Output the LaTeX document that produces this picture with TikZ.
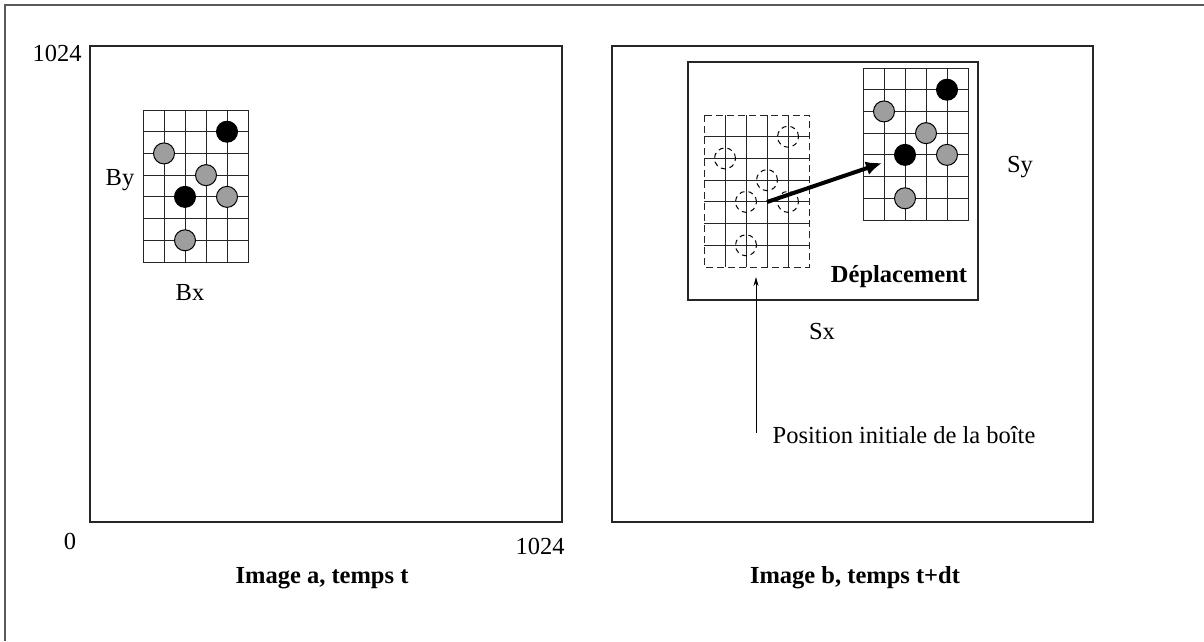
\documentclass[tikz,border=0pt]{standalone}
\usepackage{fontspec}
\setmainfont{Liberation Serif}
\usetikzlibrary{arrows.meta,positioning}
\definecolor{pastille}{gray}{0.62}
\definecolor{trait}{gray}{0.15}

% grid of the box: corner (#1,#2), 5 x 7 cells
\newcommand{\grillebx}[2]{%
  \foreach \i in {1,...,4} \draw[grille] ({#1+21*\i},#2) -- ++(0,152);
  \foreach \j in {1,...,6} \draw[grille] (#1,{#2+152/7*\j}) -- ++(105,0);
}

\begin{document}
\begin{tikzpicture}[x=1pt,y=-1pt,>=Latex,
  cadre/.style={line width=1.3pt,draw=trait},
  grille/.style={line width=1pt,draw=trait},
  lab/.style={font=\fontsize{24.5}{28}\selectfont},
  titre/.style={font=\fontsize{24.5}{28}\selectfont\bfseries}]
\useasboundingbox (0,0) rectangle (1204,641);
% outer frame (top and left only)
\draw[line width=1.3pt,draw=black!65] (5,641) -- (5,5) -- (1204,5);

% image a
\draw[cadre] (90,46) rectangle (562,522);
\node[lab] (haut) at (57,53) {1024};
\node[lab] (zero) at (70,541) {0};
\node[lab] (droite) at (540,546) {1024};
\node[titre] (imga) at (322,578) {Image a, temps t};
% box B
\grillebx{143}{110}
\draw[grille] (143,110) rectangle ++(105,152);
\foreach \c/\r/\col in {4/1/black,2/4/black,1/2/pastille,3/3/pastille,4/4/pastille,2/6/pastille}
  \draw[line width=1pt,fill=\col] ({143+21*\c},{110+152/7*\r}) circle[radius=10.5pt];
\node[lab] (by) at (120,180) {By};
\node[lab] (bx) at (190,293) {Bx};

% image b
\draw[cadre] (612,46) rectangle (1093,522);
\draw[cadre] (688,62) rectangle (978,300);
\node[titre] (imgb) at (855,578) {Image b, temps t+dt};
\node[titre] (depl) at (899,277) {Déplacement};
\node[lab] (sx) at (822,331) {Sx};
\node[lab] (sy) at (1020,167) {Sy};
% initial position of the box (dashed)
\grillebx{704}{115}
\draw[grille,dashed,dash pattern=on 7pt off 4pt] (704,115) rectangle ++(105,152);
\foreach \c/\r in {4/1,2/4,1/2,3/3,4/4,2/6}
  \draw[line width=1pt,dash pattern=on 5pt off 4pt] ({704+21*\c},{115+152/7*\r}) circle[radius=10.5pt];
% new position
\grillebx{863}{68}
\draw[grille] (863,68) rectangle ++(105,152);
\foreach \c/\r/\col in {4/1/black,2/4/black,1/2/pastille,3/3/pastille,4/4/pastille,2/6/pastille}
  \draw[line width=1pt,fill=\col] ({863+21*\c},{68+152/7*\r}) circle[radius=10.5pt];
% displacement vector
\coordinate (depart) at (767,202);
\coordinate (arrivee) at (882,163);
\draw[line width=4pt,-{Latex[length=16pt,width=14pt]}] (depart) -- (arrivee);
% pointer to initial position
\node[lab] (posinit) at (904,435) {Position initiale de la boîte};
\coordinate (pied) at (756,433);
\coordinate (basgrille) at (756,277);
\draw[line width=0.8pt,-{Stealth[length=9pt,width=5pt]}] (pied) -- (basgrille);
\end{tikzpicture}
\end{document}
